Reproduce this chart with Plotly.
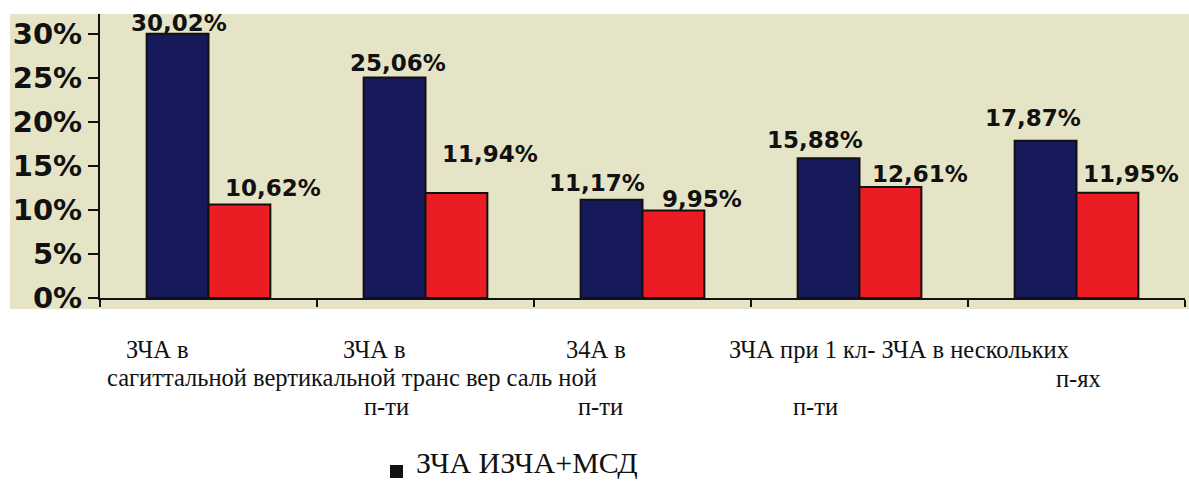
import plotly.graph_objects as go

# ---------------- data ----------------
categories = [
    "ЗЧА в сагиттальной п-ти",
    "ЗЧА в вертикальной п-ти",
    "ЗЧА в трансверсальной п-ти",
    "ЗЧА при 1 кл- п-ти",
    "ЗЧА в нескольких п-ях",
]
series_names = ["ЗЧА", "ИЗЧА+МСД"]
zcha = [30.02, 25.06, 11.17, 15.88, 17.87]
izcha_msd = [10.62, 11.94, 9.95, 12.61, 11.95]
y_ticks = [0, 5, 10, 15, 20, 25, 30]
y_tick_text = ["0%", "5%", "10%", "15%", "20%", "25%", "30%"]
cat_text = [
    "ЗЧА в", "ЗЧА в", "34А в", "ЗЧА при 1 кл- ЗЧА в нескольких",
    "сагиттальной вертикальной транс вер саль ной", "п-ях",
    "п-ти", "п-ти", "п-ти",
]
legend_text = "ЗЧА ИЗЧА+МСД"

# ---------------- style / layout ----------------
W, H = 1189, 481
ML, MR, MT, MB = 100, 4, 14, 183
PW, PH = W - ML - MR, H - MT - MB
Y_MAX = 32.27

def px_x(px):
    return (px - ML) / PW

def px_y(py):
    return (H - MB - py) / PH

NAVY = "#16195a"
RED = "#ec1c24"
BEIGE = "#e6e4c6"
INK = "#111111"

cat_pos = [(125, 359), (342, 359), (565, 359), (728, 359),
           (106, 387), (1055, 388), (363, 416), (577, 416), (792, 416)]

navy_dx = [-29.5, -27.5, -45.5, -44.5, -43.5]
navy_gap = [2, 5.5, 7.7, 10, 14]
red_dx = [64.5, 64.5, 59.5, 60.5, 54.5]
red_gap = [7.5, 30, 2.4, 4, 10]

LBL_SIZE = 23
TICK_SIZE = 29
CAT_SIZE = 24.5
LEG_SIZE = 30


def fmt(v):
    return f"{v:.2f}".replace(".", ",") + "%"


fig = go.Figure()
fig.add_trace(go.Bar(x=categories, y=zcha, name=series_names[0],
                     marker=dict(color=NAVY, line=dict(color=INK, width=2))))
fig.add_trace(go.Bar(x=categories, y=izcha_msd, name=series_names[1],
                     marker=dict(color=RED, line=dict(color=INK, width=2))))

annotations = []
desc = 0.236 * LBL_SIZE
for i, c in enumerate(categories):
    annotations.append(dict(x=c, y=zcha[i], xref="x", yref="y", text=fmt(zcha[i]),
                            showarrow=False, xanchor="center", yanchor="bottom",
                            xshift=navy_dx[i], yshift=navy_gap[i] - desc, borderpad=0,
                            font=dict(family="DejaVu Sans", size=LBL_SIZE, color=INK,
                                      weight="bold")))
    annotations.append(dict(x=c, y=izcha_msd[i], xref="x", yref="y", text=fmt(izcha_msd[i]),
                            showarrow=False, xanchor="center", yanchor="bottom",
                            xshift=red_dx[i], yshift=red_gap[i] - desc, borderpad=0,
                            font=dict(family="DejaVu Sans", size=LBL_SIZE, color=INK,
                                      weight="bold")))

cdesc = 0.216 * CAT_SIZE
for t, (lx, by) in zip(cat_text, cat_pos):
    annotations.append(dict(x=px_x(lx), y=px_y(by + cdesc), xref="paper", yref="paper",
                            text=t, showarrow=False, xanchor="left", yanchor="bottom",
                            borderpad=0,
                            font=dict(family="Liberation Serif", size=CAT_SIZE, color=INK)))

annotations.append(dict(x=px_x(415), y=px_y(480), xref="paper", yref="paper",
                        text=legend_text, showarrow=False, xanchor="left", yanchor="bottom",
                        borderpad=0,
                        font=dict(family="Liberation Serif", size=LEG_SIZE, color=INK)))

shapes = [
    dict(type="rect", xref="paper", yref="paper", layer="below",
         x0=px_x(10), x1=px_x(1189), y0=px_y(309), y1=px_y(14),
         fillcolor=BEIGE, line=dict(width=0)),
    dict(type="rect", xref="paper", yref="paper",
         x0=px_x(390), x1=px_x(403), y0=px_y(478), y1=px_y(465),
         fillcolor=INK, line=dict(width=0)),
]

fig.update_layout(
    width=W, height=H,
    margin=dict(l=ML, r=MR, t=MT, b=MB, pad=0),
    paper_bgcolor="white",
    plot_bgcolor="rgba(0,0,0,0)",
    barmode="group",
    bargap=0.43,
    bargroupgap=0,
    showlegend=False,
    annotations=annotations,
    shapes=shapes,
    xaxis=dict(type="category", showticklabels=False, showgrid=False, zeroline=False,
               showline=True, linecolor=INK, linewidth=2,
               ticks="outside", tickson="boundaries", ticklen=7, tickwidth=2,
               tickcolor=INK),
    yaxis=dict(range=[0, Y_MAX], tickvals=y_ticks, ticktext=y_tick_text,
               showgrid=False, zeroline=False, showline=True, linecolor=INK, linewidth=2,
               ticks="outside", ticklen=10, tickwidth=2, tickcolor=INK,
               tickfont=dict(family="DejaVu Sans", size=TICK_SIZE, color=INK,
                             weight="bold")),
)

fig.write_html("out.html")
